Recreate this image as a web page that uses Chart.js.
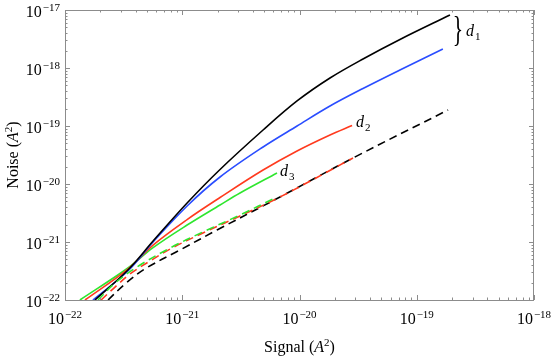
<!DOCTYPE html>
<html>
<head>
<meta charset="utf-8">
<script src="https://cdn.jsdelivr.net/npm/chart.js@4.4.0/dist/chart.umd.min.js"></script>
<style>
  html, body { margin: 0; padding: 0; background: #fff; }
  #wrap { width: 554px; height: 359px; }
</style>
</head>
<body>
<div id="wrap"><canvas id="noiseChart" width="554" height="359"></canvas></div>
<script>
// values, signal and noise both in A^2
const signalBlack = [1.80e-22, 3.44e-22, 5.64e-22, 1.10e-21, 2.10e-21, 4.89e-21, 9.53e-21, 1.82e-20, 3.48e-20, 7.19e-20, 1.92e-19];
const noiseBlack  = [1.00e-22, 3.29e-22, 1.04e-21, 4.70e-21, 1.78e-20, 8.53e-20, 2.70e-19, 6.72e-19, 1.43e-18, 3.10e-18, 8.20e-18];

const signalBlue = [1.73e-22, 3.44e-22, 5.64e-22, 1.10e-21, 2.10e-21, 4.89e-21, 9.53e-21, 1.82e-20, 3.48e-20, 7.19e-20, 1.67e-19];
const noiseBlue  = [1.00e-22, 3.16e-22, 1.00e-21, 4.18e-21, 1.32e-20, 4.35e-20, 1.00e-19, 2.21e-19, 4.43e-19, 9.24e-19, 2.13e-18];

const signalRed = [1.48e-22, 3.44e-22, 5.64e-22, 1.10e-21, 2.10e-21, 4.89e-21, 9.53e-21, 1.82e-20, 2.81e-20];
const noiseRed  = [1.00e-22, 3.42e-22, 8.87e-22, 2.44e-21, 5.85e-21, 1.74e-20, 3.71e-20, 7.00e-20, 1.02e-19];

const signalGreen = [1.34e-22, 3.44e-22, 5.64e-22, 1.10e-21, 2.10e-21, 3.11e-21, 6.43e-21];
const noiseGreen  = [1.00e-22, 3.56e-22, 8.00e-22, 1.96e-21, 4.35e-21, 7.00e-21, 1.55e-20];

const signalBlackDash = [2.33e-22, 3.25e-22, 4.81e-22, 9.57e-22, 1.98e-21, 6.82e-21, 2.86e-20, 1.85e-19];
const noiseBlackDash  = [1.00e-22, 1.89e-22, 3.45e-22, 7.28e-22, 1.61e-21, 5.97e-21, 2.81e-20, 1.89e-19];

const signalRedDash = [2.03e-22, 2.67e-22, 3.58e-22, 5.31e-22, 7.87e-22, 1.50e-21, 3.11e-21, 6.82e-21, 2.86e-20];
const noiseRedDash  = [1.00e-22, 1.67e-22, 2.81e-22, 4.70e-22, 7.57e-22, 1.43e-21, 2.81e-21, 5.97e-21, 2.81e-20];

const signalGreenDash = [1.91e-22, 2.67e-22, 4.11e-22, 7.87e-22, 1.50e-21, 3.11e-21, 6.43e-21];
const noiseGreenDash  = [1.00e-22, 1.96e-22, 3.71e-22, 7.88e-22, 1.49e-21, 2.92e-21, 5.97e-21];

// decades shown as tick labels (10^e)
const xTickExps = [-22, -21, -20, -19, -18];
const yTickExps = [-22, -21, -20, -19, -18, -17];

const SERIF = "'Liberation Serif', 'DejaVu Serif', serif";

function toPoints(xs, ys) {
    return xs.map((v, i) => ({ x: v, y: ys[i] }));
}

function line(xs, ys, color, dash) {
    return {
        data: toPoints(xs, ys),
        borderColor: color,
        borderWidth: 1.6,
        borderDash: dash || [],
        pointRadius: 0,
        fill: false,
        tension: 0.35,
    };
}

function setTicks(exps) {
    return (scale) => {
        scale.ticks = exps.map((e) => ({ value: Math.pow(10, e), major: true }));
    };
}

// "10" with a raised exponent; align is "center" or "right"
function drawPow10(ctx, exp, x, baseline, align) {
    const expText = "\u2212" + String(-exp);
    ctx.font = "16px " + SERIF;
    const wBase = ctx.measureText("10").width;
    ctx.font = "11px " + SERIF;
    const wExp = ctx.measureText(expText).width;
    const total = wBase + wExp + 1;
    const left = align === "right" ? x - total : x - total / 2;
    ctx.textAlign = "left";
    ctx.textBaseline = "alphabetic";
    ctx.font = "16px " + SERIF;
    ctx.fillText("10", left, baseline);
    ctx.font = "11px " + SERIF;
    ctx.fillText(expText, left + wBase + 1, baseline - 6);
}

// "Name (A^2)" with italic A
function titleParts(ctx, name) {
    const parts = [
        { t: name + " (", f: "16px " + SERIF, dy: 0 },
        { t: "A", f: "italic 16px " + SERIF, dy: 0 },
        { t: "2", f: "11px " + SERIF, dy: -6 },
        { t: ")", f: "16px " + SERIF, dy: 0 },
    ];
    let w = 0;
    parts.forEach((p) => { ctx.font = p.f; p.w = ctx.measureText(p.t).width; w += p.w; });
    return { parts, w };
}

function drawTitle(ctx, name, cx, baseline) {
    const { parts, w } = titleParts(ctx, name);
    let x = cx - w / 2;
    ctx.textAlign = "left";
    ctx.textBaseline = "alphabetic";
    parts.forEach((p) => { ctx.font = p.f; ctx.fillText(p.t, x, baseline + p.dy); x += p.w; });
}

// d label: italic d with a small subscript
function drawSubLabel(ctx, sub, x, y) {
    ctx.font = "italic 16px " + SERIF;
    ctx.textAlign = "left";
    ctx.textBaseline = "alphabetic";
    ctx.fillText("d", x, y);
    const w = ctx.measureText("d").width;
    ctx.font = "11px " + SERIF;
    ctx.fillText(sub, x + w + 1, y + 4);
}

const frameAndNotes = {
    id: "frameAndNotes",
    afterDraw(chart) {
        const { ctx, chartArea: a, scales: { x, y } } = chart;
        ctx.save();
        ctx.strokeStyle = "#8c8c8c";
        ctx.lineWidth = 1;
        ctx.strokeRect(a.left + 0.5, a.top + 0.5, a.right - a.left - 1, a.bottom - a.top);

        // inward major and minor ticks on all four sides
        ctx.beginPath();
        const lastX = xTickExps[xTickExps.length - 1];
        for (let e = xTickExps[0]; e <= lastX; e++) {
            for (let m = 1; m <= 9; m++) {
                if (e === lastX && m > 1) break;
                const px = Math.round(x.getPixelForValue(m * Math.pow(10, e))) + 0.5;
                const len = m === 1 ? 5 : 2.5;
                ctx.moveTo(px, a.bottom); ctx.lineTo(px, a.bottom - len);
                ctx.moveTo(px, a.top); ctx.lineTo(px, a.top + len);
            }
        }
        const lastY = yTickExps[yTickExps.length - 1];
        for (let e = yTickExps[0]; e <= lastY; e++) {
            for (let m = 1; m <= 9; m++) {
                if (e === lastY && m > 1) break;
                const py = Math.round(y.getPixelForValue(m * Math.pow(10, e))) + 0.5;
                const len = m === 1 ? 5 : 2.5;
                ctx.moveTo(a.left, py); ctx.lineTo(a.left + len, py);
                ctx.moveTo(a.right, py); ctx.lineTo(a.right - len, py);
            }
        }
        ctx.stroke();

        ctx.fillStyle = "#000";
        xTickExps.forEach((e) => {
            drawPow10(ctx, e, x.getPixelForValue(Math.pow(10, e)), a.bottom + 24, "center");
        });
        yTickExps.forEach((e) => {
            drawPow10(ctx, e, a.left - 5, y.getPixelForValue(Math.pow(10, e)) + 7, "right");
        });

        drawTitle(ctx, "Signal", (a.left + a.right) / 2, 352);
        ctx.save();
        ctx.translate(18, (a.top + a.bottom) / 2);
        ctx.rotate(-Math.PI / 2);
        drawTitle(ctx, "Noise", 0, 0);
        ctx.restore();

        // brace grouping the black and blue curves
        const bx = x.getPixelForValue(signalBlack[signalBlack.length - 1]);
        const by1 = y.getPixelForValue(noiseBlack[noiseBlack.length - 1]);
        const by2 = y.getPixelForValue(noiseBlue[noiseBlue.length - 1]);
        const bmid = (by1 + by2) / 2;
        ctx.save();
        ctx.translate(bx + 8, bmid);
        ctx.scale(0.6, 1);
        ctx.font = "36px " + SERIF;
        ctx.textAlign = "center";
        ctx.textBaseline = "middle";
        ctx.fillText("}", 0, 0);
        ctx.restore();
        drawSubLabel(ctx, "1", bx + 16, bmid + 4);

        const rx = x.getPixelForValue(signalRed[signalRed.length - 1]);
        const ry = y.getPixelForValue(noiseRed[noiseRed.length - 1]);
        drawSubLabel(ctx, "2", rx + 4, ry + 1);

        const gx = x.getPixelForValue(signalGreen[signalGreen.length - 1]);
        const gy = y.getPixelForValue(noiseGreen[noiseGreen.length - 1]);
        drawSubLabel(ctx, "3", gx + 3, gy + 3);
        ctx.restore();
    },
};

const ctx = document.getElementById("noiseChart").getContext("2d");
new Chart(ctx, {
    type: "line",
    data: {
        // first dataset is drawn on top
        datasets: [
            line(signalGreenDash, noiseGreenDash, "#2ee62e", [8, 5]),
            line(signalRedDash, noiseRedDash, "#ff3a1e", [8, 5]),
            line(signalBlackDash, noiseBlackDash, "#000000", [8, 5]),
            line(signalBlack, noiseBlack, "#000000"),
            line(signalBlue, noiseBlue, "#2a4dff"),
            line(signalRed, noiseRed, "#ff3a1e"),
            line(signalGreen, noiseGreen, "#2ee62e"),
        ],
    },
    options: {
        responsive: false,
        animation: false,
        layout: { padding: { top: 10, right: 20, left: 0, bottom: 0 } },
        plugins: { legend: { display: false }, tooltip: { enabled: false } },
        scales: {
            x: {
                type: "logarithmic",
                min: 1e-22,
                max: 1e-18,
                grid: { display: false, drawTicks: false },
                border: { display: false },
                afterBuildTicks: setTicks(xTickExps),
                afterFit: (s) => { s.height = 59; },
                ticks: { display: false },
            },
            y: {
                type: "logarithmic",
                min: 1e-22,
                max: 1e-17,
                grid: { display: false, drawTicks: false },
                border: { display: false },
                afterBuildTicks: setTicks(yTickExps),
                afterFit: (s) => { s.width = 65; },
                ticks: { display: false },
            },
        },
    },
    plugins: [frameAndNotes],
});
</script>
</body>
</html>
